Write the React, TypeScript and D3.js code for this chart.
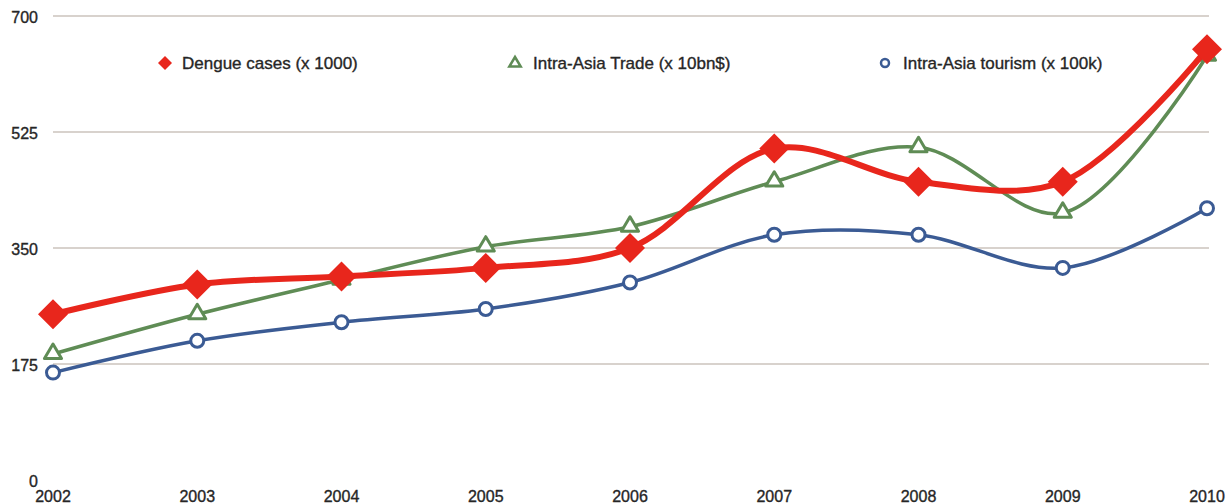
import React from "react";
import * as d3 from "d3";

const years = [2002, 2003, 2004, 2005, 2006, 2007, 2008, 2009, 2010];
const dengue = [250, 295, 307, 320, 350, 500, 450, 450, 650];
const trade = [190, 250, 302, 352, 382, 450, 502, 403, 640];
const tourism = [162, 210, 238, 258, 298, 370, 370, 320, 410];
const yTicks = [0, 175, 350, 525, 700];
const legendLabels = ["Dengue cases (x 1000)", "Intra-Asia Trade (x 10bn$)", "Intra-Asia tourism (x 100k)"];

const W = 1226;
const H = 504;
const RED = "#e8261c";
const GREEN = "#5f8c55";
const BLUE = "#3b5b94";
const GRID = "#cbc3bd";
const TEXT = "#262626";
const FONT = "'Liberation Sans', Arial, Helvetica, sans-serif";

export default function App() {
  const x = d3.scalePoint<number>().domain(years).range([53, 1207]);
  const y = d3.scaleLinear().domain([0, 700]).range([480, 16]);
  const line = d3
    .line<number>()
    .x((_, i) => x(years[i]) as number)
    .y((d) => y(d))
    .curve(d3.curveCatmullRom.alpha(0.5));

  const diamond = (cx: number, cy: number, r: number) =>
    `M${cx},${cy - r}L${cx + r},${cy}L${cx},${cy + r}L${cx - r},${cy}Z`;
  const tri = (cx: number, cy: number, r: number) =>
    `M${cx},${cy - r}L${cx + r * 0.95},${cy + r * 0.6}L${cx - r * 0.95},${cy + r * 0.6}Z`;

  const textProps = { fill: TEXT, stroke: TEXT, strokeWidth: 0.35 };

  return (
    <svg
      width={W}
      height={H}
      style={{ position: "absolute", left: 0, top: 0, background: "#fff" }}
      fontFamily={FONT}
    >
      {yTicks.map((t) => (
        <g key={t}>
          {t > 0 && <line x1={53} x2={1209} y1={y(t)} y2={y(t)} stroke={GRID} strokeWidth={1.5} />}
          <text x={38} y={y(t) + 1} dy="0.35em" textAnchor="end" fontSize={16} {...textProps}>
            {t}
          </text>
        </g>
      ))}
      {years.map((yr) => (
        <text key={yr} x={x(yr)} y={502} textAnchor="middle" fontSize={16} {...textProps}>
          {yr}
        </text>
      ))}

      <path d={line(tourism) || ""} fill="none" stroke={BLUE} strokeWidth={3.5} />
      <path d={line(trade) || ""} fill="none" stroke={GREEN} strokeWidth={3.5} />
      {trade.map((v, i) => (
        <path key={i} d={tri(x(years[i]) as number, y(v) - 1, 9)} fill="#fff" stroke={GREEN} strokeWidth={3} strokeLinejoin="round" />
      ))}
      {tourism.map((v, i) => (
        <circle key={i} cx={x(years[i]) as number} cy={y(v)} r={6.5} fill="#fff" stroke={BLUE} strokeWidth={3} />
      ))}
      <path d={line(dengue) || ""} fill="none" stroke={RED} strokeWidth={6} />
      {dengue.map((v, i) => (
        <path key={i} d={diamond(x(years[i]) as number, y(v), 15)} fill={RED} />
      ))}

      <path d={diamond(165, 63, 7)} fill={RED} />
      <text x={182} y={63} dy="0.35em" fontSize={17} {...textProps}>{legendLabels[0]}</text>
      <path d={tri(515, 63, 6)} fill="#fff" stroke={GREEN} strokeWidth={2.5} />
      <text x={533} y={63} dy="0.35em" fontSize={17} {...textProps}>{legendLabels[1]}</text>
      <circle cx={885} cy={63} r={4} fill="#fff" stroke={BLUE} strokeWidth={2.5} />
      <text x={903} y={63} dy="0.35em" fontSize={17} {...textProps}>{legendLabels[2]}</text>
    </svg>
  );
}
